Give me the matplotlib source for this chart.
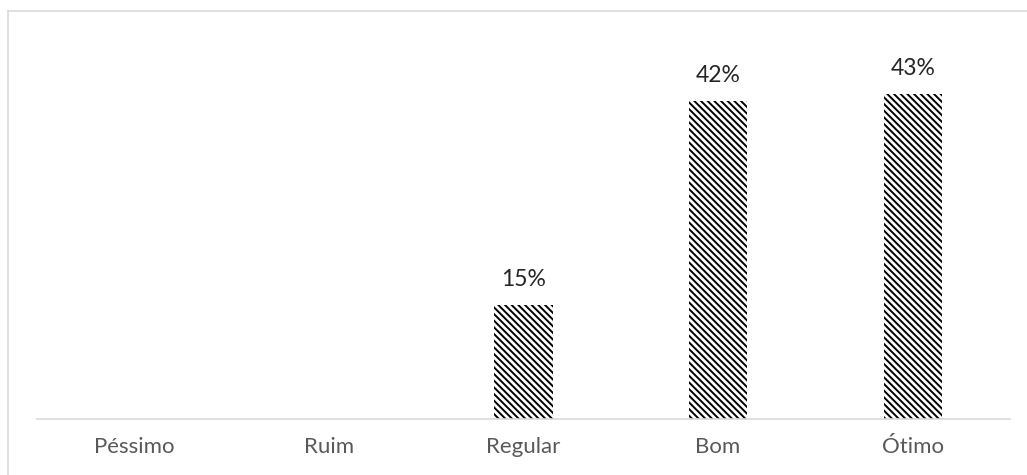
import matplotlib
matplotlib.use("Agg")
import matplotlib.pyplot as plt
from matplotlib.lines import Line2D

categories = ["Péssimo", "Ruim", "Regular", "Bom", "Ótimo"]
values = [0, 0, 15, 42, 43]

plt.rcParams["font.family"] = ["Lato", "DejaVu Sans"]
plt.rcParams["hatch.linewidth"] = 1.4

W, H = 1027, 475
fig = plt.figure(figsize=(W / 100, H / 100), dpi=100)
ax = fig.add_axes([37 / W, 56.5 / H, (1010 - 37) / W, 377.5 / H])

x = range(len(categories))
bars = ax.bar(x, values, width=0.3, color="white", edgecolor="black",
              linewidth=0, hatch="\\" * 5)

for xi, v in zip(x, values):
    if v > 0:
        ax.annotate(f"{v}%", (xi, v), xytext=(0, 11), textcoords="offset points",
                    ha="center", va="bottom", fontsize=16.5, color="#262626")

ax.set_xlim(-0.5, len(categories) - 0.5)
ax.set_ylim(0, 50)
ax.set_xticks(list(x))
ax.set_xticklabels(categories, fontsize=16, color="#595959")
ax.tick_params(axis="x", length=0, pad=13)
ax.set_yticks([])
for side in ["top", "right", "left"]:
    ax.spines[side].set_visible(False)
ax.spines["bottom"].set_color("#d9d9d9")
ax.spines["bottom"].set_linewidth(1.2)

# outer chart frame (left and top edges)
frame_color = "#d9d9d9"
fig.add_artist(Line2D([7.5 / W, 7.5 / W], [0, 1 - 10.5 / H],
                      transform=fig.transFigure, color=frame_color, lw=1.2))
fig.add_artist(Line2D([7.5 / W, 1], [1 - 10.5 / H, 1 - 10.5 / H],
                      transform=fig.transFigure, color=frame_color, lw=1.2))

fig.savefig("out.png", dpi=100)
